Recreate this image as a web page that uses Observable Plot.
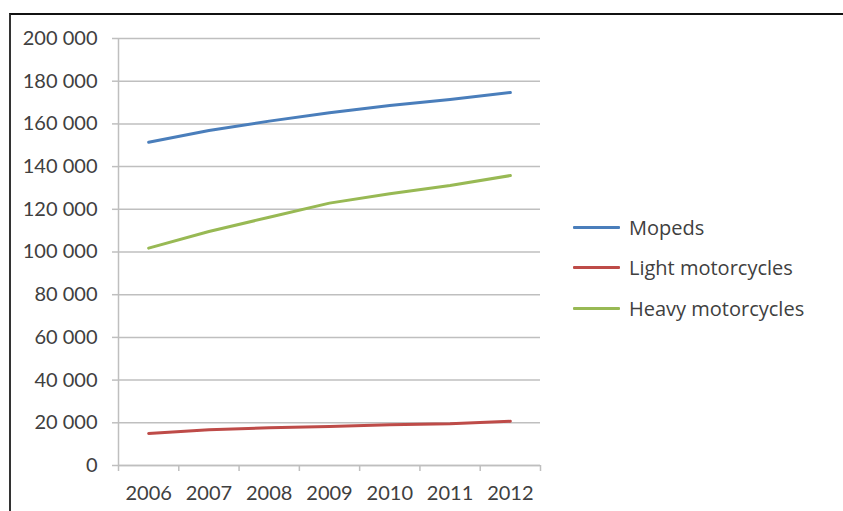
<!DOCTYPE html>
<html>
<head>
<meta charset="utf-8">
<script src="https://cdn.jsdelivr.net/npm/d3@7"></script>
<script src="https://cdn.jsdelivr.net/npm/@observablehq/plot@0.6"></script>
<style>
  html, body { margin: 0; padding: 0; background: #fff; }
  #wrap { position: relative; width: 843px; height: 511px; overflow: hidden; }
  #frame { position: absolute; left: 9px; top: 13px; right: -5px; bottom: -5px;
           border-top: 2px solid #111; border-left: 2px solid #333; pointer-events: none; }
  #legend { position: absolute; left: 573px; top: 207px; font-family: "Open Sans", sans-serif;
            font-size: 20px; color: #404040; }
  .item { display: flex; align-items: center; height: 40.5px; }
  .swatch { width: 47px; height: 3px; margin-right: 9px; border-radius: 1px; }
</style>
</head>
<body>
<div id="wrap"><div id="chart"></div><div id="legend"></div><div id="frame"></div></div>
<script>
const years = [2006, 2007, 2008, 2009, 2010, 2011, 2012];
const seriesNames = ["Mopeds", "Light motorcycles", "Heavy motorcycles"];
const mopeds = [151400, 156900, 161300, 165200, 168600, 171400, 174700];
const light = [15000, 16700, 17700, 18300, 19100, 19500, 20700];
const heavy = [101800, 109600, 116300, 122900, 127300, 131100, 135800];
const yTicks = [0, 20000, 40000, 60000, 80000, 100000, 120000, 140000, 160000, 180000, 200000];
const colors = ["#4a7ebb", "#be4b48", "#98b954"];

const valuesBySeries = [mopeds, light, heavy];
const data = [];
seriesNames.forEach((s, i) => years.forEach((yr, j) => data.push({series: s, year: yr, value: valuesBySeries[i][j]})));

const xDomain = [years[0] - 0.5, years[years.length - 1] + 0.5];
const boundaries = years.map(y => y - 0.5).concat([years[years.length - 1] + 0.5]);
const fmt = d => d3.format(",")(d).replace(/,/g, "\u00a0");
const gridColor = "#bfbfbf";

const chart = Plot.plot({
  width: 843,
  height: 511,
  marginLeft: 118,
  marginRight: 303,
  marginTop: 38,
  marginBottom: 46,
  style: { fontFamily: "Lato, sans-serif", fontSize: "20px", color: "#404040", background: "transparent" },
  x: { type: "linear", domain: xDomain },
  y: { domain: [0, 200000] },
  color: { domain: seriesNames, range: colors },
  marks: [
    Plot.gridY(yTicks, { stroke: gridColor, strokeOpacity: 1, strokeWidth: 1.5 }),
    Plot.axisY(yTicks, { tickFormat: fmt, tickSize: 6, tickPadding: 15, stroke: gridColor, strokeWidth: 1.5, label: null, fill: "#404040" }),
    Plot.ruleX([xDomain[0]], { stroke: gridColor, strokeWidth: 1.5 }),
    Plot.ruleY([0], { stroke: gridColor, strokeWidth: 1.5 }),
    Plot.axisX(boundaries, { tickSize: 6, tickFormat: () => "", stroke: gridColor, strokeWidth: 1.5, label: null }),
    Plot.axisX(years, { tickSize: 0, tickPadding: 20, tickFormat: d => String(d), label: null, fill: "#404040" }),
    Plot.line(data, { x: "year", y: "value", z: "series", stroke: "series", strokeWidth: 3, strokeLinecap: "round", strokeLinejoin: "round" })
  ]
});
document.getElementById("chart").appendChild(chart);

const legend = document.getElementById("legend");
seriesNames.forEach((s, i) => {
  const row = document.createElement("div");
  row.className = "item";
  const sw = document.createElement("div");
  sw.className = "swatch";
  sw.style.background = colors[i];
  const t = document.createElement("span");
  t.textContent = s;
  row.appendChild(sw);
  row.appendChild(t);
  legend.appendChild(row);
});
</script>
</body>
</html>
